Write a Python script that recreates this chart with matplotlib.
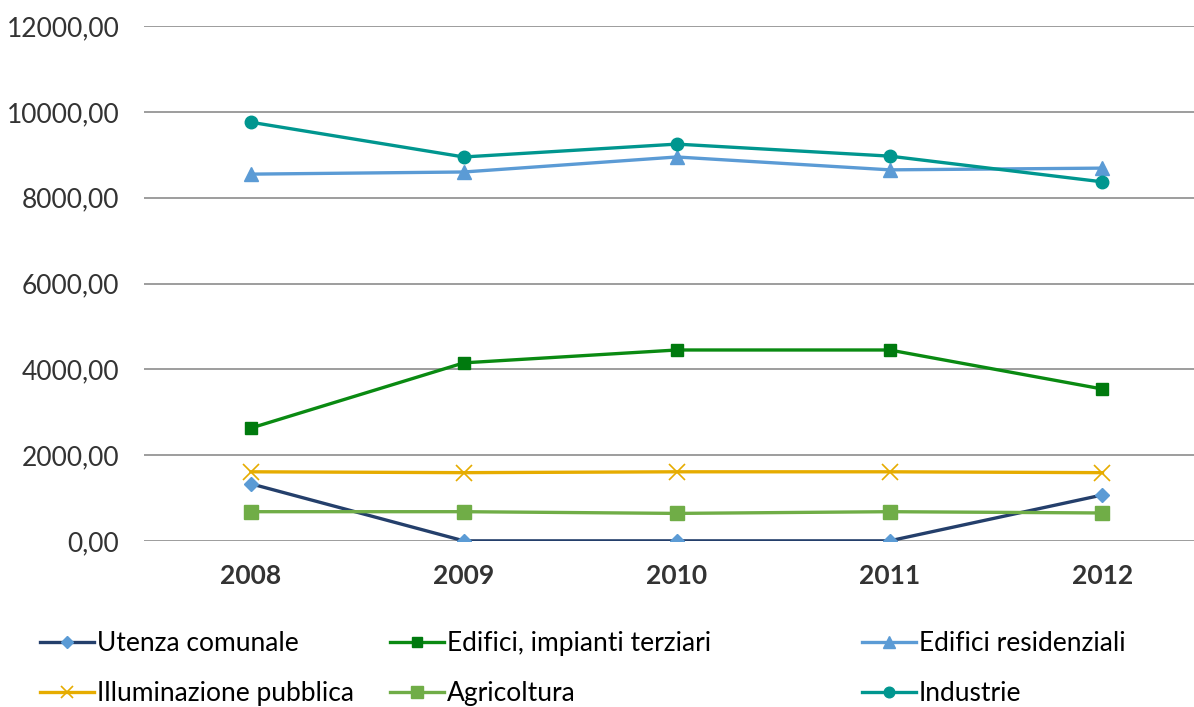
import numpy as np
import matplotlib.pyplot as plt

plt.rcParams['font.family'] = ['Lato', 'DejaVu Sans']

anni = ['2008', '2009', '2010', '2011', '2012']
utenza = [1330, 0, 0, 0, 1070]
terziari = [2630, 4150, 4450, 4450, 3540]
residenziali = [8550, 8600, 8950, 8650, 8690]
illuminazione = [1610, 1590, 1610, 1610, 1590]
agricoltura = [680, 680, 640, 680, 650]
industrie = [9760, 8950, 9250, 8970, 8370]

x = np.arange(len(anni))

fig = plt.figure(figsize=(11.94, 7.07), dpi=100)
ax = fig.add_axes([0.121, 0.235, 0.879, 0.728])

lw = 2.4
l1, = ax.plot(x, utenza, color='#243F6B', lw=lw, marker='D', ms=7,
              mfc='#5B9BD5', mec='#5B9BD5', label='Utenza comunale')
l2, = ax.plot(x, terziari, color='#0A8A12', lw=lw, marker='s', ms=9,
              mfc='#007A0E', mec='#007A0E', label='Edifici, impianti terziari')
l3, = ax.plot(x, residenziali, color='#5B9BD5', lw=lw, marker='^', ms=10,
              label='Edifici residenziali')
l4, = ax.plot(x, illuminazione, color='#E6AC00', lw=lw, marker='x', ms=11,
              mew=1.2, label='Illuminazione pubblica')
l5, = ax.plot(x, agricoltura, color='#70AD47', lw=lw, marker='s', ms=10,
              label='Agricoltura')
l6, = ax.plot(x, industrie, color='#00968F', lw=lw, marker='o', ms=9,
              label='Industrie')

ax.set_xlim(-0.5, 4.43)
ax.set_ylim(0, 12000)
ax.set_yticks(np.arange(0, 12001, 2000))
ax.set_yticklabels([f'{v},00' for v in range(0, 12001, 2000)])
ax.set_xticks(x)
ax.set_xticklabels(anni, fontweight='bold')
ax.tick_params(axis='both', length=0, labelsize=19, labelcolor='#333333')
ax.tick_params(axis='x', pad=17)
ax.tick_params(axis='y', pad=18)
ax.grid(axis='y', color='#8C8C8C', lw=1.2)
ax.set_axisbelow(True)
for s in ax.spines.values():
    s.set_visible(False)

# legenda su tre colonne, posizionate come nell'originale
colonne = [([l1, l4], 40), ([l2, l5], 390), ([l3, l6], 862)]
for handles, px in colonne:
    fig.legend(handles=handles, loc='center left',
               bbox_to_anchor=(px / 1194, 0.0545), ncol=1, frameon=False,
               fontsize=19, handlelength=2.05, handletextpad=0.1,
               labelspacing=0.95, borderpad=0, borderaxespad=0,
               markerscale=0.85)

fig.savefig('out.png', dpi=100)
